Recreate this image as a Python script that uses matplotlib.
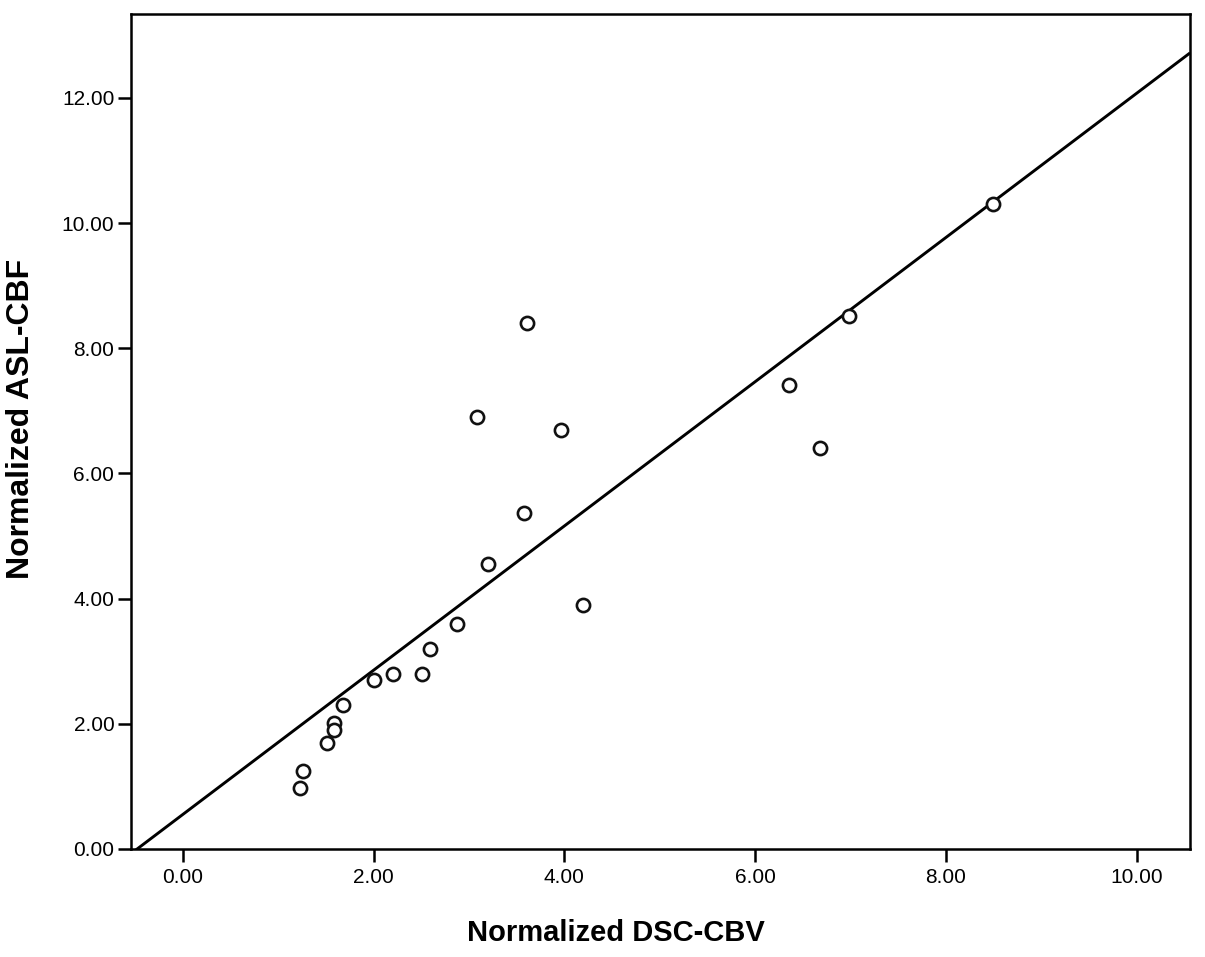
import matplotlib
matplotlib.use('Agg')
import matplotlib.pyplot as plt
import numpy as np

# Normalized DSC-CBV vs normalized ASL-CBF
dsc_cbv = [8.49, 6.98, 6.35, 6.68, 3.61, 3.08, 3.96, 3.58, 3.20, 4.19, 2.87,
           2.59, 2.20, 2.51, 2.00, 1.68, 1.58, 1.58, 1.51, 1.26, 1.23]
asl_cbf = [10.30, 8.51, 7.41, 6.40, 8.40, 6.90, 6.70, 5.36, 4.56, 3.90, 3.60,
           3.20, 2.80, 2.80, 2.70, 2.30, 2.02, 1.90, 1.70, 1.25, 0.98]

# fit line
fit_intercept = 0.553
fit_slope = 1.152

x_ticks = [0, 2, 4, 6, 8, 10]
y_ticks = [0, 2, 4, 6, 8, 10, 12]
x_lim = (-0.545, 10.56)
y_lim = (0.0, 13.34)

plt.rcParams['font.family'] = ['Liberation Sans', 'DejaVu Sans']

fig = plt.figure(figsize=(12.05, 9.57), dpi=100)
ax = fig.add_axes([0.1087, 0.1129, 0.8789, 0.8725])

xs = np.array(x_lim)
ax.plot(xs, fit_intercept + fit_slope * xs, color='black', linewidth=2.1,
        solid_capstyle='butt', zorder=2)
ax.plot(dsc_cbv, asl_cbf, linestyle='none', marker='o', markersize=9.5,
        markerfacecolor='white', markeredgecolor='#111111',
        markeredgewidth=1.9, zorder=3)

ax.set_xlim(*x_lim)
ax.set_ylim(*y_lim)
ax.set_xticks(x_ticks)
ax.set_yticks(y_ticks)
ax.set_xticklabels([f'{v:.2f}' for v in x_ticks])
ax.set_yticklabels([f'{v:.2f}' for v in y_ticks])
ax.tick_params(direction='out', length=9.5, width=1.8, labelsize=15,
               pad=2.5, colors='black')
ax.tick_params(axis='x', pad=4)

for sp in ax.spines.values():
    sp.set_linewidth(1.8)
    sp.set_color('black')

ax.set_xlabel('Normalized DSC-CBV', fontsize=21, fontweight='bold')
ax.set_ylabel('Normalized ASL-CBF', fontsize=23, fontweight='bold')
ax.xaxis.set_label_coords(0.458, -0.1006)
ax.yaxis.set_label_coords(-0.1035, 0.515)
ax.xaxis.label.set_va('center')
ax.yaxis.label.set_va('center')

fig.savefig('out.png', dpi=100, facecolor='white')
